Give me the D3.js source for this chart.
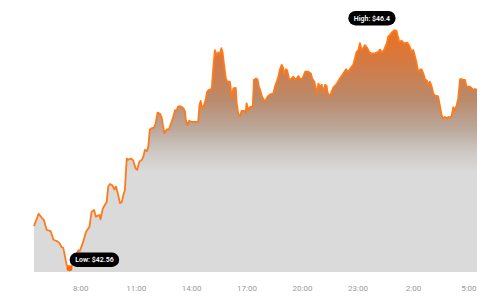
<!DOCTYPE html>
<html><head><meta charset="utf-8">
<script src="https://cdn.jsdelivr.net/npm/d3@7"></script>
<style>html,body{margin:0;padding:0;background:#fff;} svg{display:block;font-family:Roboto, "Noto Sans", sans-serif;}</style>
</head><body><svg id="chart" width="483" height="300"></svg>
<script>
const times = ["5:30","5:45","5:56","6:02","6:11","6:24","6:33","6:44","6:52","7:00","7:05","7:11","7:16","7:25","7:32","7:40","7:46","7:54","7:59","8:10","8:19","8:30","8:37","8:45","8:51","9:02","9:06","9:13","9:20","9:26","9:31","9:37","9:44","9:51","9:56","10:02","10:09","10:15","10:20","10:25","10:31","10:36","10:45","10:52","11:00","11:05","11:12","11:20","11:25","11:30","11:37","11:41","11:46","11:52","12:00","12:05","12:11","12:19","12:24","12:30","12:33","12:41","12:48","12:55","13:02","13:08","13:13","13:18","13:27","13:35","13:40","13:43","13:48","13:54","14:02","14:13","14:23","14:27","14:31","14:36","14:42","14:48","14:52","14:59","15:07","15:12","15:17","15:23","15:28","15:34","15:38","15:42","15:47","15:53","15:57","16:06","16:12","16:17","16:25","16:28","16:33","16:39","16:44","16:52","16:57","17:00","17:06","17:11","17:20","17:24","17:31","17:36","17:40","17:44","17:49","17:54","18:00","18:05","18:10","18:19","18:27","18:32","18:38","18:43","18:48","18:54","18:59","19:02","19:08","19:12","19:18","19:24","19:32","19:37","19:43","19:48","19:53","19:59","20:04","20:10","20:15","20:20","20:29","20:33","20:40","20:44","20:49","20:53","20:58","21:04","21:09","21:15","21:20","21:23","21:31","21:36","21:41","21:52","22:03","22:14","22:23","22:30","22:38","22:46","22:52","22:57","23:03","23:08","23:14","23:19","23:24","23:32","23:38","23:46","23:57","0:08","0:13","0:19","0:26","0:35","0:40","0:45","0:51","1:00","1:07","1:10","1:16","1:23","1:29","1:34","1:42","1:48","1:56","2:01","2:07","2:12","2:17","2:23","2:28","2:34","2:39","2:45","2:50","2:55","3:01","3:06","3:12","3:19","3:22","3:28","3:33","3:38","3:44","3:50","3:55","4:00","4:06","4:11","4:16","4:22","4:27","4:33","4:38","4:43","4:49","4:54","5:05","5:11","5:16","5:21","5:28"];
const prices = [43.24,43.44,43.37,43.34,43.18,43.16,43.02,43.00,42.97,42.90,42.89,42.74,42.61,42.56,42.59,42.66,42.77,42.85,42.84,42.99,43.15,43.23,43.47,43.50,43.39,43.42,43.35,43.52,43.58,43.63,43.88,43.92,43.90,43.83,43.88,43.77,43.61,43.63,43.74,43.82,44.33,44.31,44.33,44.30,44.17,44.15,44.28,44.31,44.36,44.47,44.45,44.52,44.80,44.82,44.83,44.90,45.07,45.05,45.00,44.82,44.74,44.80,44.80,44.90,45.00,45.11,45.11,45.17,45.17,45.14,45.09,44.95,44.87,44.94,44.92,44.92,44.92,45.19,45.26,45.14,45.19,45.30,45.41,45.44,45.45,45.79,46.08,46.00,46.04,46.02,46.11,46.05,45.84,45.62,45.57,45.57,45.30,45.46,45.47,45.22,45.05,45.02,45.10,45.10,45.07,45.22,45.11,45.16,45.17,45.60,45.62,45.60,45.49,45.44,45.35,45.29,45.25,45.30,45.34,45.37,45.38,45.49,45.57,45.65,45.76,45.84,45.79,45.69,45.77,45.75,45.61,45.61,45.65,45.61,45.62,45.66,45.62,45.61,45.65,45.73,45.73,45.73,45.70,45.62,45.57,45.49,45.38,45.54,45.49,45.52,45.39,45.52,45.50,45.39,45.33,45.41,45.47,45.53,45.62,45.70,45.77,45.73,45.79,45.84,45.95,46.05,46.08,46.19,46.08,46.11,46.16,46.11,46.05,46.02,46.03,46.05,46.09,46.04,46.08,46.19,46.30,46.32,46.36,46.40,46.39,46.32,46.21,46.23,46.20,46.19,46.20,46.15,46.05,46.08,45.97,45.87,45.73,45.76,45.77,45.70,45.61,45.59,45.52,45.57,45.49,45.38,45.34,45.34,45.33,45.17,45.03,44.98,45.00,44.98,45.00,44.99,45.02,45.16,45.11,45.19,45.30,45.61,45.61,45.60,45.60,45.49,45.49,45.46,45.44,45.45,45.44];
const tickLabels = ["8:00","11:00","14:00","17:00","20:00","23:00","2:00","5:00"];
const lowText = "Low: $42.56";
const highText = "High: $46.4";

function parseSeq(arr){
  let day = 0, prev = -1;
  return arr.map(s => {
    const [h, m] = s.split(":").map(Number);
    const mins = h * 60 + m;
    if (prev >= 0 && mins < prev) day++;
    prev = mins;
    return new Date(2024, 0, 1 + day, h, m);
  });
}
const dates = parseSeq(times);
const data = dates.map((d, i) => ({date: d, value: prices[i]}));
const tickDates = parseSeq(tickLabels);

const svg = d3.select("#chart");
const x = d3.scaleTime().domain(d3.extent(dates)).range([34, 477]);
const y = d3.scaleLinear().domain([42.5, 46.5]).range([272, 24]);

const defs = svg.append("defs");
const grad = defs.append("linearGradient").attr("id", "fillGrad")
  .attr("gradientUnits", "userSpaceOnUse")
  .attr("x1", 0).attr("x2", 0).attr("y1", 30).attr("y2", 172);
[[0, "#ec7020"], [0.246, "#d27b45"], [0.493, "#ba8a6c"], [0.704, "#bca99c"], [0.845, "#cbc6c2"], [1, "#dadada"]]
  .forEach(([o, c]) => grad.append("stop").attr("offset", o).attr("stop-color", c));

const area = d3.area().x(d => x(d.date)).y0(y.range()[0]).y1(d => y(d.value));
const line = d3.line().x(d => x(d.date)).y(d => y(d.value));

svg.append("path").datum(data).attr("d", area).attr("fill", "url(#fillGrad)");
svg.append("path").datum(data).attr("d", line).attr("fill", "none")
  .attr("stroke", "#ff7a1a").attr("stroke-width", 1.8).attr("stroke-linejoin", "round");

const xAxis = d3.axisBottom(x).tickValues(tickDates).tickFormat((d, i) => tickLabels[i]).tickSize(0).tickPadding(0);
const gx = svg.append("g").attr("transform", "translate(0,285)").call(xAxis);
gx.select(".domain").remove();
gx.selectAll("text").attr("fill", "#9a9a9a").attr("font-size", 8).attr("font-family", "Roboto, sans-serif").attr("dy", "0.71em");

const lowI = d3.minIndex(prices), highI = d3.maxIndex(prices);
const lowP = data[lowI], highP = data[highI];

svg.append("circle").attr("cx", x(lowP.date)).attr("cy", y(lowP.value)).attr("r", 3).attr("fill", "#ff6a00");

function pill(cx, cy, text){
  const g = svg.append("g");
  const t = g.append("text").attr("x", cx).attr("y", cy).attr("text-anchor", "middle")
    .attr("dy", "0.35em").attr("fill", "#fff").attr("font-size", 7).attr("font-weight", 600).text(text);
  const w = t.node().getComputedTextLength() + 11;
  g.insert("rect", "text").attr("x", cx - w / 2).attr("y", cy - 7.2).attr("width", w).attr("height", 14.4)
    .attr("rx", 7.2).attr("fill", "#000");
}
pill(x(lowP.date) + 25, y(lowP.value) - 8.5, lowText);
pill(x(highP.date) - 22.5, y(highP.value) - 12, highText);
</script></body></html>
